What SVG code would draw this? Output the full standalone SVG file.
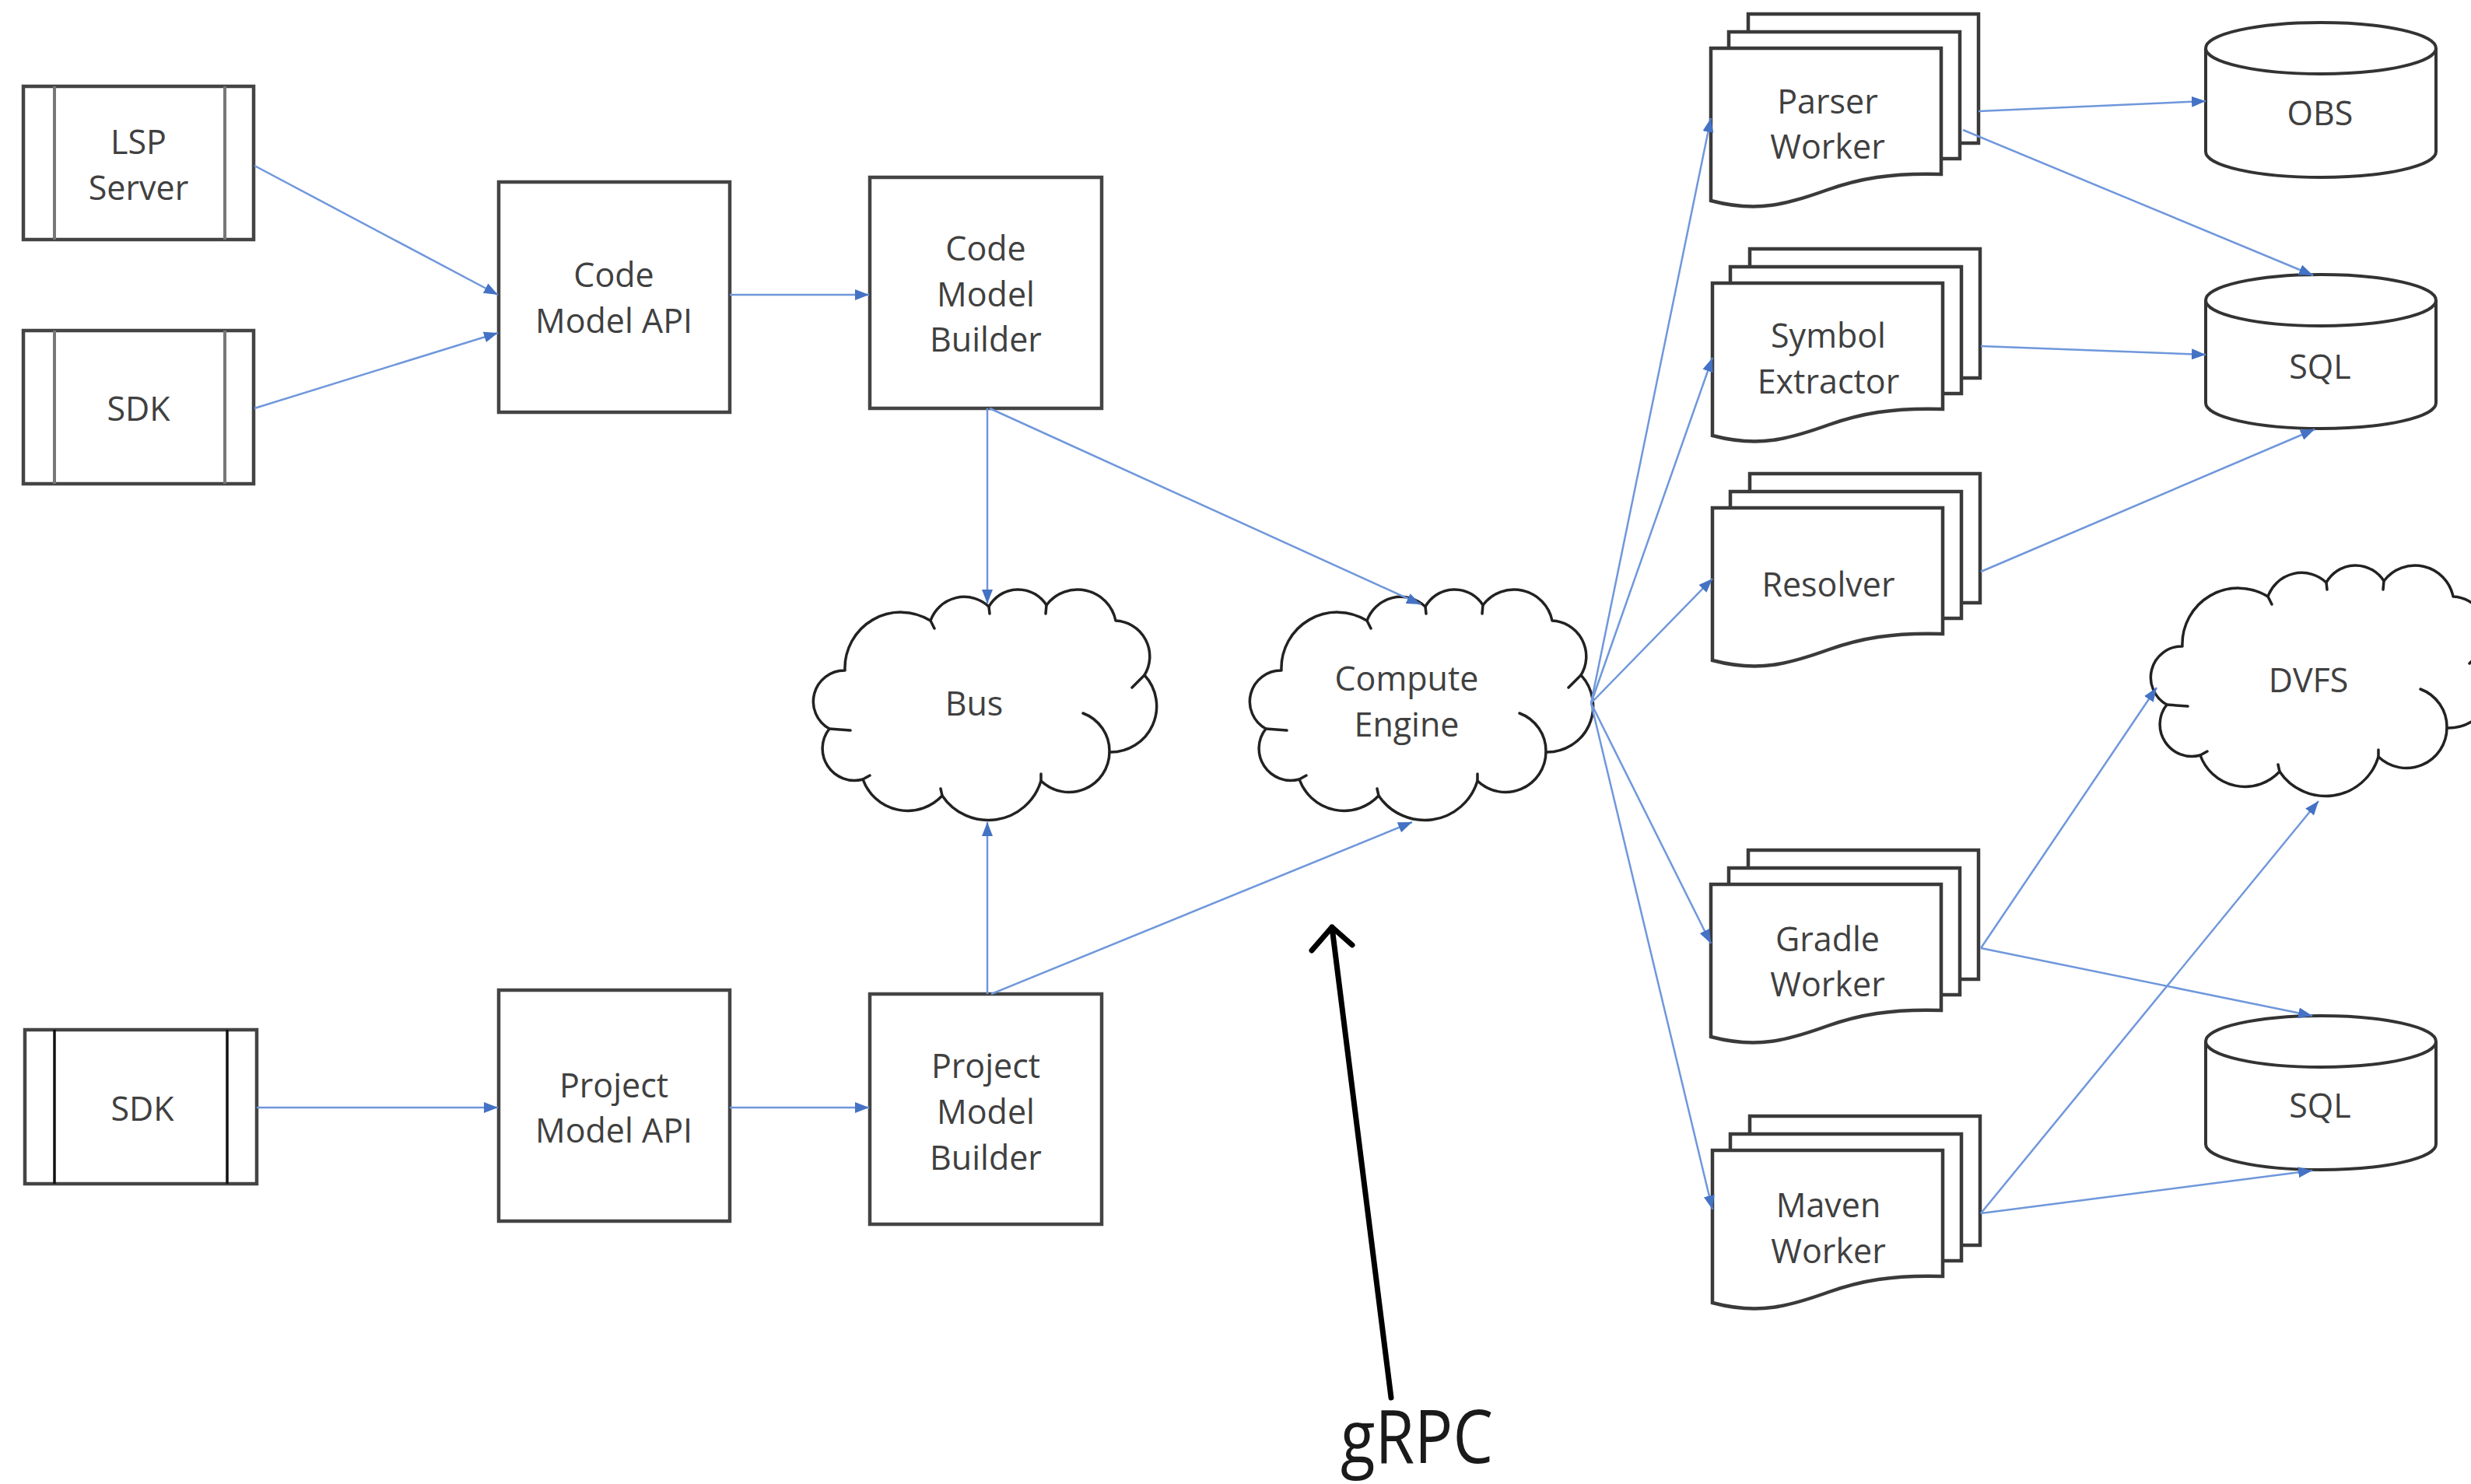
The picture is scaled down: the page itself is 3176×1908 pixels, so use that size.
<svg xmlns="http://www.w3.org/2000/svg" width="3176" height="1908" viewBox="0 0 3176 1908">
<style>
.box{fill:#fff;stroke:#444;stroke-width:4.5}
.inner{stroke:#777;stroke-width:4}
.innerk{stroke:#111;stroke-width:3.5}
.lbl{font-family:"Open Sans","Noto Sans","Liberation Sans",sans-serif;font-size:43px;fill:#404040;text-anchor:middle}
.cloud{fill:#fff;stroke:#222;stroke-width:3.5;stroke-linejoin:round}
.tick{fill:none;stroke:#222;stroke-width:3.5;stroke-linecap:round}
.doc{fill:#fff;stroke:#3a3a3a;stroke-width:4.5}
.cyl{fill:#fff;stroke:#333;stroke-width:4}
.conn{fill:none;stroke:#6f97db;stroke-width:2.5}
</style>
<defs>
<marker id="arr" markerUnits="userSpaceOnUse" viewBox="0 0 18 14" refX="18" refY="7" markerWidth="18" markerHeight="14" orient="auto">
<path d="M0,0 L18,7 L0,14 Z" fill="#4472c4"/>
</marker>
<g id="cloudshape">
<path class="cloud" d="M41,104 A72,72 0 0 1 151,40 A46,46 0 0 1 226,22 A43,43 0 0 1 300,20 A50,50 0 0 1 389,40 A46,46 0 0 1 426,110 A59,59 0 0 1 381,209 A52,52 0 0 1 293,246 A71,71 0 0 1 166,265 A61,61 0 0 1 64,244 A41,41 0 0 1 21,179 A40,40 0 0 1 41,104 Z"/>
<path class="tick" d="M151,40 L156,50 M226,22 L227,31 M300,20 L299,31 M426,110 L410,126 M347,159 A52,52 0 0 1 381,209 M293,246 L293,237 M166,265 L164,256 M64,244 L73,239 M21,179 L48,181"/>
</g>
<g id="stack">
<rect class="doc" x="48" y="-44" width="296" height="166"/>
<rect class="doc" x="23" y="-21" width="297" height="163"/>
<path class="doc" d="M0,0 H296 V162 C230,160 190,168 150,182 C100,200 60,212 0,196 Z"/>
</g>
</defs>
<rect width="3176" height="1908" fill="#fff"/>

<g id="lsp-server">
<rect class="box" x="30" y="111" width="296" height="197"/>
<line class="inner" x1="70" y1="111" x2="70" y2="308"/>
<line class="inner" x1="289" y1="111" x2="289" y2="308"/>
<text class="lbl" x="178" y="198">LSP</text>
<text class="lbl" x="178" y="257">Server</text>
</g>
<g id="sdk-top">
<rect class="box" x="30" y="425" width="296" height="197"/>
<line class="inner" x1="70" y1="425" x2="70" y2="622"/>
<line class="inner" x1="289" y1="425" x2="289" y2="622"/>
<text class="lbl" x="178" y="541">SDK</text>
</g>
<g id="code-model-api">
<rect class="box" x="641" y="234" width="297" height="296"/>
<text class="lbl" x="789" y="369">Code</text>
<text class="lbl" x="789" y="428">Model API</text>
</g>
<g id="code-model-builder">
<rect class="box" x="1118" y="228" width="298" height="297"/>
<text class="lbl" x="1267" y="335">Code</text>
<text class="lbl" x="1267" y="394">Model</text>
<text class="lbl" x="1267" y="452">Builder</text>
</g>
<g id="bus">
<use href="#cloudshape" transform="translate(1045,758)"/>
<text class="lbl" x="1252" y="920">Bus</text>
</g>
<g id="compute-engine">
<use href="#cloudshape" transform="translate(1606,758)"/>
<text class="lbl" x="1808" y="888">Compute</text>
<text class="lbl" x="1808" y="947">Engine</text>
</g>
<g id="sdk-bottom">
<rect class="box" x="32" y="1324" width="298" height="198"/>
<line class="innerk" x1="70" y1="1324" x2="70" y2="1522"/>
<line class="innerk" x1="292" y1="1324" x2="292" y2="1522"/>
<text class="lbl" x="183" y="1441">SDK</text>
</g>
<g id="project-model-api">
<rect class="box" x="641" y="1273" width="297" height="297"/>
<text class="lbl" x="789" y="1411">Project</text>
<text class="lbl" x="789" y="1469">Model API</text>
</g>
<g id="project-model-builder">
<rect class="box" x="1118" y="1278" width="298" height="296"/>
<text class="lbl" x="1267" y="1386">Project</text>
<text class="lbl" x="1267" y="1445">Model</text>
<text class="lbl" x="1267" y="1504">Builder</text>
</g>

<g id="parser-worker">
<use href="#stack" transform="translate(2199,62)"/>
<text class="lbl" x="2349" y="146">Parser</text>
<text class="lbl" x="2349" y="204">Worker</text>
</g>
<g id="symbol-extractor">
<use href="#stack" transform="translate(2201,364)"/>
<text class="lbl" x="2350" y="447">Symbol</text>
<text class="lbl" x="2350" y="506">Extractor</text>
</g>
<g id="resolver">
<use href="#stack" transform="translate(2201,653)"/>
<text class="lbl" x="2350" y="767">Resolver</text>
</g>
<g id="gradle-worker">
<use href="#stack" transform="translate(2199,1137)"/>
<text class="lbl" x="2349" y="1223">Gradle</text>
<text class="lbl" x="2349" y="1281">Worker</text>
</g>
<g id="maven-worker">
<use href="#stack" transform="translate(2201,1479)"/>
<text class="lbl" x="2350" y="1565">Maven</text>
<text class="lbl" x="2350" y="1624">Worker</text>
</g>

<g id="obs">
<path class="cyl" d="M2835,62 A148,33 0 0 1 3131,62 V195 A148,33 0 0 1 2835,195 Z M2835,62 A148,33 0 0 0 3131,62"/>
<text class="lbl" x="2982" y="161">OBS</text>
</g>
<g id="sql-1">
<path class="cyl" d="M2835,386 A148,33 0 0 1 3131,386 V518 A148,33 0 0 1 2835,518 Z M2835,386 A148,33 0 0 0 3131,386"/>
<text class="lbl" x="2982" y="487">SQL</text>
</g>
<g id="dvfs">
<use href="#cloudshape" transform="translate(2764,727)"/>
<text class="lbl" x="2967" y="890">DVFS</text>
</g>
<g id="sql-2">
<path class="cyl" d="M2835,1339 A148,33 0 0 1 3131,1339 V1471 A148,33 0 0 1 2835,1471 Z M2835,1339 A148,33 0 0 0 3131,1339"/>
<text class="lbl" x="2982" y="1437">SQL</text>
</g>

<g id="connectors" class="conn" marker-end="url(#arr)">
<line x1="327" y1="213" x2="640" y2="379"/>
<line x1="327" y1="525" x2="640" y2="428"/>
<line x1="938" y1="379" x2="1117" y2="379"/>
<line x1="1269" y1="525" x2="1269" y2="776"/>
<line x1="1272" y1="525" x2="1826" y2="777"/>
<line x1="1269" y1="1278" x2="1269" y2="1057"/>
<line x1="1274" y1="1278" x2="1815" y2="1057"/>
<line x1="330" y1="1424" x2="640" y2="1424"/>
<line x1="938" y1="1424" x2="1117" y2="1424"/>
<line x1="2045" y1="904" x2="2199" y2="152"/>
<line x1="2045" y1="904" x2="2201" y2="460"/>
<line x1="2045" y1="904" x2="2201" y2="744"/>
<line x1="2045" y1="904" x2="2199" y2="1213"/>
<line x1="2045" y1="904" x2="2201" y2="1555"/>
<line x1="2543" y1="143" x2="2835" y2="130"/>
<line x1="2523" y1="167" x2="2973" y2="354"/>
<line x1="2546" y1="445" x2="2835" y2="456"/>
<line x1="2546" y1="735" x2="2975" y2="552"/>
<line x1="2546" y1="1219" x2="2772" y2="884"/>
<line x1="2546" y1="1219" x2="2972" y2="1306"/>
<line x1="2546" y1="1560" x2="2980" y2="1030"/>
<line x1="2546" y1="1560" x2="2972" y2="1505"/>
</g>

<g id="grpc-annotation">
<path d="M1788,1797 L1712,1192 M1686,1222 L1712,1192 L1738,1215" fill="none" stroke="#000" stroke-width="7" stroke-linecap="round" stroke-linejoin="round"/>
<text x="1821" y="1881" font-family="'Open Sans','Noto Sans','Liberation Sans',sans-serif" font-size="95" font-weight="500" fill="#1a1a1a" text-anchor="middle" textLength="196" lengthAdjust="spacingAndGlyphs">gRPC</text>
</g>
</svg>
